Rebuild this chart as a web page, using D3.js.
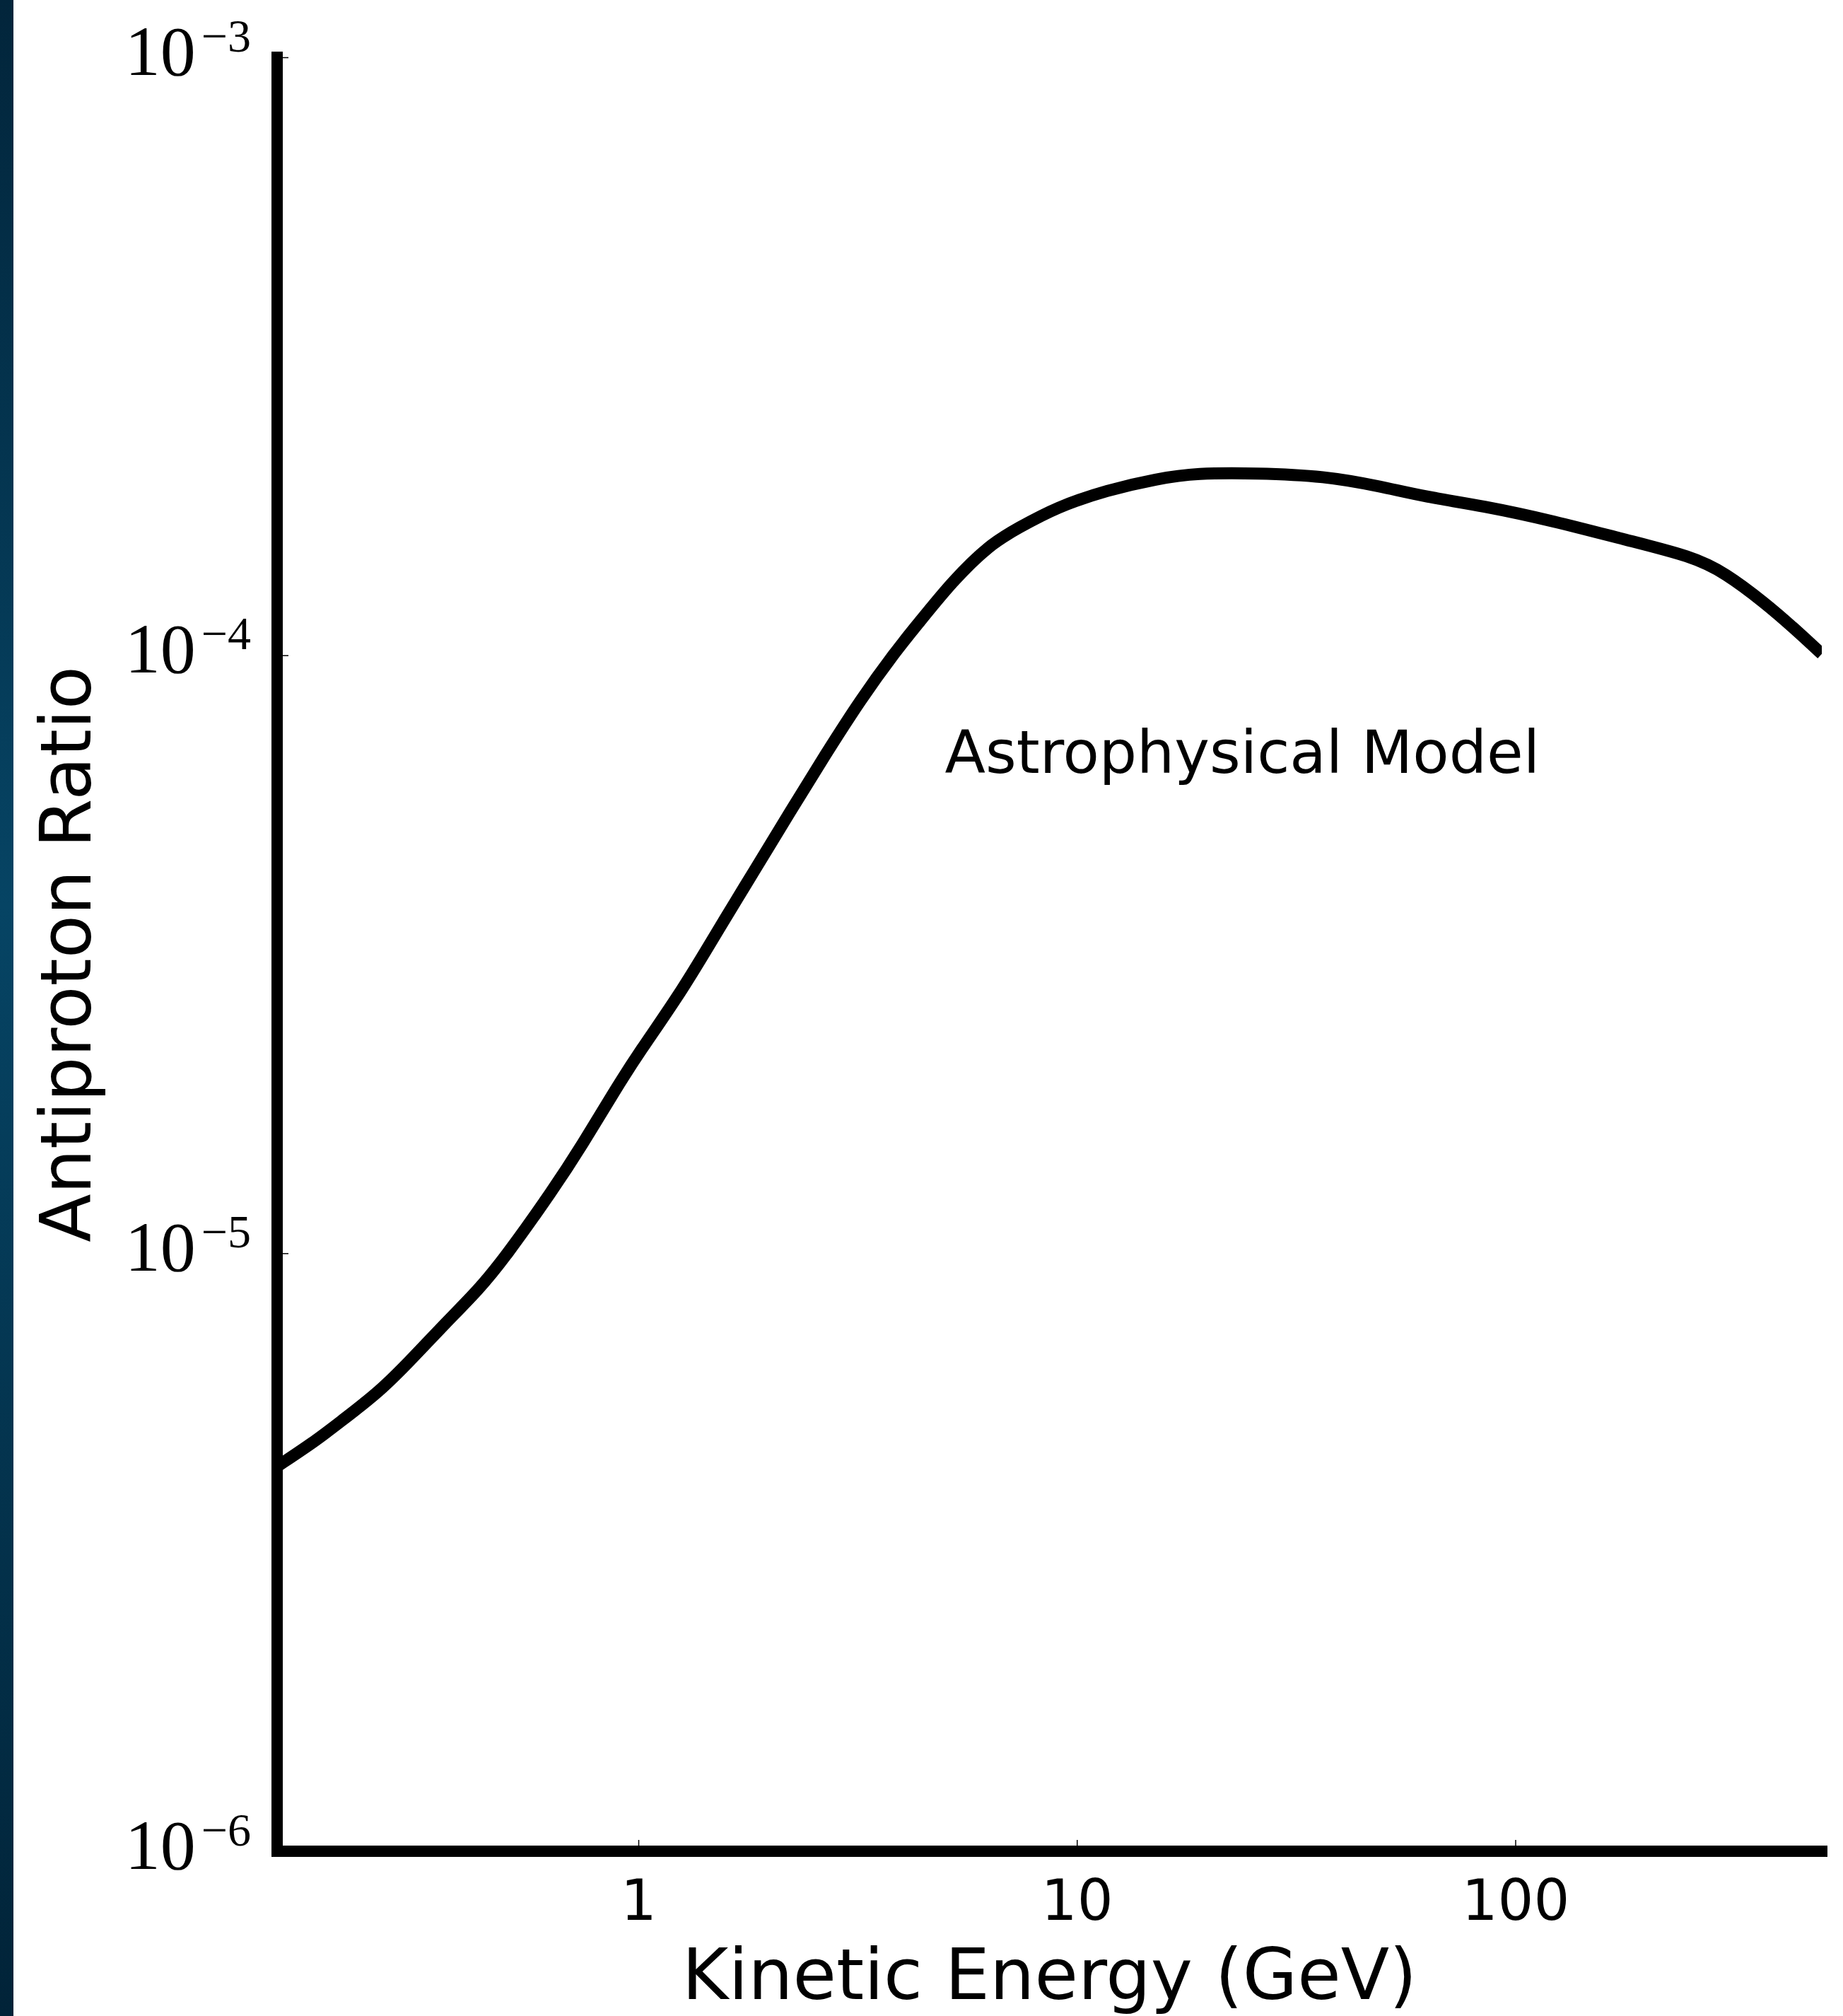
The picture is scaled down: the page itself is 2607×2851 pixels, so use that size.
<!DOCTYPE html>
<html>
<head>
<meta charset="utf-8">
<script src="https://cdn.jsdelivr.net/npm/d3@7"></script>
<style>
  html, body { margin: 0; padding: 0; background: #ffffff; }
  svg { display: block; }
</style>
</head>
<body>
<svg id="chart" width="2607" height="2851"></svg>
<script>
// ---- data ----
const energy = [0.15, 0.184, 0.210, 0.257, 0.305, 0.363, 0.432, 0.494, 0.640, 0.743, 0.885, 1.0,
  1.268, 1.527, 1.838, 2.214, 2.666, 3.209, 3.863, 4.318, 5.2, 6.33, 7.34, 9.01, 11.72, 15.26, 18.78,
  25.56, 36.8, 49.5, 62.6, 83.9, 122.9, 177.5, 253.6, 300.8, 371.7, 429.8, 500];
const ratio = [4.40e-6, 4.86e-6, 5.24e-6, 5.87e-6, 6.67e-6, 7.64e-6, 8.69e-6, 9.79e-6, 1.279e-5, 1.514e-5, 1.875e-5, 2.158e-5,
  2.772e-5, 3.493e-5, 4.36e-5, 5.46e-5, 6.81e-5, 8.42e-5, 1.016e-4, 1.123e-4, 1.33e-4, 1.532e-4, 1.632e-4, 1.770e-4, 1.889e-4, 1.974e-4, 2.017e-4,
  2.017e-4, 1.995e-4, 1.915e-4, 1.839e-4, 1.780e-4, 1.676e-4, 1.561e-4, 1.463e-4, 1.374e-4, 1.222e-4, 1.114e-4, 1.005e-4];
const xTicks = [1, 10, 100];
const xTickLabels = ["1", "10", "100"];
const yTicks = [1e-6, 1e-5, 1e-4, 1e-3];
const yTickExponents = ["\u22126", "\u22125", "\u22124", "\u22123"];
const xLabel = "Kinetic Energy (GeV)";
const yLabel = "Antiproton Ratio";
const annotation = "Astrophysical Model";
const annotationPos = [5.0, 6.36e-5];

// ---- layout ----
const svg = d3.select("#chart");
const plotLeft = 392, plotRight = 2577, plotTop = 81, plotBottom = 2618;

const x = d3.scaleLog().domain([0.15, 500]).range([plotLeft, plotRight]);
const y = d3.scaleLog().domain([1e-6, 1e-3]).range([plotBottom, plotTop]);

// left decorative strip
const defs = svg.append("defs");
const grad = defs.append("linearGradient").attr("id", "strip").attr("x1", 0).attr("y1", 0).attr("x2", 0).attr("y2", 1);
grad.append("stop").attr("offset", "0%").attr("stop-color", "#02253b");
grad.append("stop").attr("offset", "45%").attr("stop-color", "#064464");
grad.append("stop").attr("offset", "100%").attr("stop-color", "#012338");
svg.append("rect").attr("x", 0).attr("y", 0).attr("width", 19).attr("height", 2851).attr("fill", "url(#strip)");

defs.append("clipPath").attr("id", "plotclip").append("rect")
  .attr("x", plotLeft).attr("y", plotTop).attr("width", plotRight - plotLeft).attr("height", plotBottom - plotTop);

// curve
const line = d3.line().x((d, i) => x(energy[i])).y((d, i) => y(ratio[i])).curve(d3.curveBasis);
svg.append("path")
  .datum(energy)
  .attr("clip-path", "url(#plotclip)")
  .attr("d", line)
  .attr("fill", "none")
  .attr("stroke", "#000")
  .attr("stroke-width", 17)
  .attr("stroke-linejoin", "round");

// x axis ticks
const gx = svg.append("g").attr("transform", `translate(0,${plotBottom})`)
  .call(d3.axisBottom(x).tickValues(xTicks).tickSize(-16).tickFormat((d, i) => xTickLabels[i]));
gx.select(".domain").remove();
gx.selectAll(".tick line").attr("stroke", "#000").attr("stroke-width", 1.5);
gx.selectAll(".tick text")
  .attr("y", 97).attr("dy", null)
  .attr("fill", "#000")
  .style("font-family", "'DejaVu Sans', sans-serif")
  .style("font-size", "80px");

// y axis ticks
const gy = svg.append("g").attr("transform", `translate(${plotLeft},0)`)
  .call(d3.axisLeft(y).tickValues(yTicks).tickSize(-16).tickFormat(() => ""));
gy.select(".domain").remove();
gy.selectAll(".tick line").attr("stroke", "#000").attr("stroke-width", 1.5);
gy.selectAll(".tick text").remove();
gy.selectAll(".tick").each(function(d, i) {
  const t = d3.select(this).append("text")
    .attr("x", -37).attr("y", 24)
    .attr("text-anchor", "end")
    .attr("fill", "#000")
    .style("font-family", "'Liberation Serif', serif");
  t.append("tspan").style("font-size", "100px").text("10");
  t.append("tspan").attr("dx", 8).attr("dy", -33).style("font-size", "66px").text(yTickExponents[i]);
});

// spines
svg.append("line").attr("x1", plotLeft).attr("x2", plotLeft).attr("y1", plotTop).attr("y2", plotBottom)
  .attr("stroke", "#000").attr("stroke-width", 16).attr("stroke-linecap", "square");
svg.append("line").attr("x1", plotLeft).attr("x2", plotRight).attr("y1", plotBottom).attr("y2", plotBottom)
  .attr("stroke", "#000").attr("stroke-width", 16).attr("stroke-linecap", "square");

// axis labels
svg.append("text")
  .attr("x", (plotLeft + plotRight) / 2).attr("y", 2827)
  .attr("text-anchor", "middle")
  .style("font-family", "'DejaVu Sans', sans-serif").style("font-size", "100px")
  .text(xLabel);
svg.append("text")
  .attr("transform", `translate(128,${(plotTop + plotBottom) / 2}) rotate(-90)`)
  .attr("text-anchor", "middle")
  .style("font-family", "'DejaVu Sans', sans-serif").style("font-size", "100px")
  .text(yLabel);

// annotation
svg.append("text")
  .attr("x", x(annotationPos[0])).attr("y", y(annotationPos[1]))
  .style("font-family", "'DejaVu Sans', sans-serif").style("font-size", "84px")
  .text(annotation);
</script>
</body>
</html>
